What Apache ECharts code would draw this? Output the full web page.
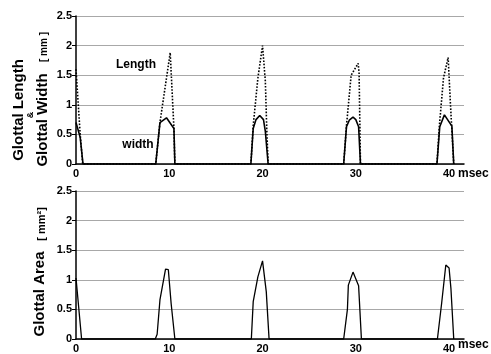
<!DOCTYPE html>
<html><head><meta charset="utf-8">
<script src="https://cdn.jsdelivr.net/npm/echarts@6/dist/echarts.min.js"></script>
<style>html,body{margin:0;padding:0;background:#fff}#c{width:491px;height:354px}</style>
</head><body><div id="c"></div>
<script>
// Glottal length (dotted) — time (ms) and value (mm)
const lengthT = [0, 0.45, 0.72, 8.55, 9.0, 10.1, 10.5, 10.6, 18.75, 19.0, 19.5, 20.0, 20.3, 20.45, 20.6, 28.7, 29.0, 29.5, 30.25, 30.35, 30.5, 38.7, 38.95, 39.4, 39.9, 40.15, 40.5];
const lengthV = [1.6, 0.5, 0, 0, 0.7, 1.88, 0.6, 0, 0, 0.65, 1.45, 2.0, 1.4, 0.6, 0, 0, 0.65, 1.5, 1.7, 1.55, 0, 0, 0.63, 1.45, 1.8, 1.0, 0];
// Glottal width (solid)
const widthT = [0, 0.45, 0.75, 8.55, 9.0, 9.7, 10.5, 10.6, 18.75, 19.0, 19.3, 19.7, 20.1, 20.3, 20.6, 28.7, 29.0, 29.3, 29.7, 30.0, 30.3, 30.5, 38.7, 39.0, 39.5, 40.3, 40.5];
const widthV = [0.7, 0.45, 0, 0, 0.7, 0.78, 0.6, 0, 0, 0.6, 0.75, 0.82, 0.75, 0.55, 0, 0, 0.63, 0.74, 0.79, 0.75, 0.63, 0, 0, 0.63, 0.83, 0.64, 0];
// Glottal area (mm^2)
const areaT = [0, 0.6, 8.5, 8.7, 9.0, 9.6, 9.9, 10.2, 10.6, 18.8, 19.0, 19.5, 20.0, 20.4, 20.7, 28.7, 29.1, 29.2, 29.7, 29.9, 30.3, 30.6, 38.75, 39.2, 39.65, 40.0, 40.2, 40.5];
const areaV = [1.03, 0, 0, 0.08, 0.66, 1.18, 1.17, 0.6, 0, 0, 0.63, 1.05, 1.32, 0.8, 0, 0, 0.5, 0.91, 1.13, 1.15, 0.9, 0, 0, 0.6, 1.25, 1.2, 0.85, 0];
const xTicks = [0, 10, 20, 30, 40];
const yTicks = [0, 0.5, 1, 1.5, 2, 2.5];

const zip = (a, b) => a.map((t, i) => [t, b[i]]);
const FONT = 'Arial, "Liberation Sans", sans-serif';

function xAxis(gi) {
  return {
    type: 'value', gridIndex: gi, min: 0, max: 41.6, interval: 10,
    axisLine: { show: true, onZero: false, lineStyle: { color: '#000', width: 1.5 } },
    axisTick: { show: false },
    splitLine: { show: false },
    axisLabel: {
      margin: 4, color: '#000', fontWeight: 'bold', fontSize: 11, fontFamily: FONT,
      formatter: v => xTicks.includes(v) ? String(v) : ''
    }
  };
}
function yAxis(gi) {
  return {
    type: 'value', gridIndex: gi, min: 0, max: 2.5, interval: 0.5,
    axisLine: { show: true, lineStyle: { color: '#000', width: 1.5 } },
    axisTick: { show: true, length: 4, lineStyle: { color: '#000', width: 1 } },
    splitLine: { show: true, lineStyle: { color: '#a8a8a8', width: 1 } },
    axisLabel: {
      margin: 4, color: '#000', fontWeight: 'bold', fontSize: 11, fontFamily: FONT,
      formatter: v => yTicks.includes(v) ? String(v) : ''
    }
  };
}

const chart = echarts.init(document.getElementById('c'), null, { renderer: 'canvas' });
chart.setOption({
  animation: false,
  backgroundColor: '#fff',
  grid: [
    { left: 76, right: 27, top: 16, height: 148 },
    { left: 76, right: 27, top: 191, height: 148 }
  ],
  xAxis: [xAxis(0), xAxis(1)],
  yAxis: [yAxis(0), yAxis(1)],
  series: [
    { type: 'line', xAxisIndex: 0, yAxisIndex: 0, data: zip(lengthT, lengthV), symbol: 'none',
      lineStyle: { color: '#000', width: 1.6, type: [1.6, 1.6] } },
    { type: 'line', xAxisIndex: 0, yAxisIndex: 0, data: zip(widthT, widthV), symbol: 'none',
      lineStyle: { color: '#000', width: 1.6 } },
    { type: 'line', xAxisIndex: 1, yAxisIndex: 1, data: zip(areaT, areaV), symbol: 'none',
      lineStyle: { color: '#000', width: 1.3 } }
  ],
  graphic: [
    { type: 'text', x: 19, y: 110, rotation: Math.PI / 2,
      style: { text: 'Glottal Length', font: 'bold 15px ' + FONT, fill: '#000', align: 'center', verticalAlign: 'middle' } },
    { type: 'text', x: 31, y: 115, rotation: Math.PI / 2,
      style: { text: '&', font: 'bold 9px ' + FONT, fill: '#000', align: 'center', verticalAlign: 'middle' } },
    { type: 'text', x: 43, y: 120, rotation: Math.PI / 2,
      style: { text: 'Glottal Width', font: 'bold 15px ' + FONT, fill: '#000', align: 'center', verticalAlign: 'middle' } },
    { type: 'text', x: 44, y: 47, rotation: Math.PI / 2,
      style: { text: '[ mm ]', font: 'bold 10px ' + FONT, fill: '#000', align: 'center', verticalAlign: 'middle' } },
    { type: 'text', x: 40, y: 294, rotation: Math.PI / 2,
      style: { text: 'Glottal Area', font: 'bold 15px ' + FONT, fill: '#000', align: 'center', verticalAlign: 'middle' } },
    { type: 'text', x: 42, y: 224, rotation: Math.PI / 2,
      style: { text: '[ mm²]', font: 'bold 11px ' + FONT, fill: '#000', align: 'center', verticalAlign: 'middle' } },
    { type: 'text', x: 136, y: 65,
      style: { text: 'Length', font: 'bold 12px ' + FONT, fill: '#000', align: 'center', verticalAlign: 'middle' } },
    { type: 'text', x: 138, y: 145,
      style: { text: 'width', font: 'bold 12px ' + FONT, fill: '#000', align: 'center', verticalAlign: 'middle' } },
    { type: 'text', x: 458, y: 174,
      style: { text: 'msec', font: 'bold 12px ' + FONT, fill: '#000', align: 'left', verticalAlign: 'middle' } },
    { type: 'text', x: 458, y: 345,
      style: { text: 'msec', font: 'bold 12px ' + FONT, fill: '#000', align: 'left', verticalAlign: 'middle' } }
  ]
});
</script></body></html>
